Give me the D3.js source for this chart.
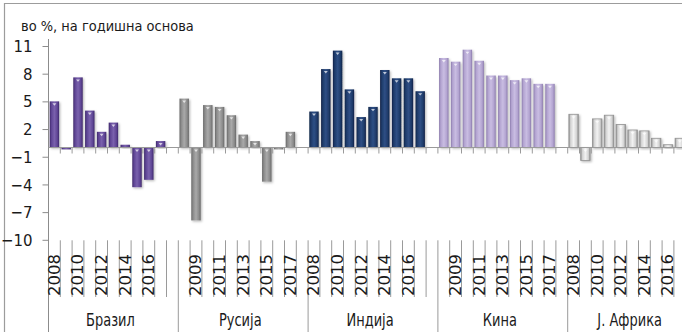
<!DOCTYPE html>
<html>
<head>
<meta charset="utf-8">
<script src="https://cdn.jsdelivr.net/npm/d3@7"></script>
<style>
  html, body { margin: 0; padding: 0; background: #fff; }
  svg { display: block; }
  text { font-family: "DejaVu Sans", sans-serif; fill: #1a1a1a; }
</style>
</head>
<body>
<script>
// Real GDP growth, % y/y, by country and year
const years = ["2008", "2009", "2010", "2011", "2012", "2013", "2014", "2015", "2016", "2017"];
const countries = ["Бразил", "Русија", "Индија", "Кина", "Ј. Африка"];
const brazil = [5.0, -0.2, 7.6, 4.0, 1.7, 2.7, 0.3, -4.3, -3.5, 0.7];
const russia = [5.3, -7.9, 4.6, 4.4, 3.5, 1.4, 0.7, -3.7, -0.2, 1.7];
const india = [3.9, 8.5, 10.5, 6.3, 3.3, 4.4, 8.4, 7.5, 7.5, 6.1];
const china = [9.7, 9.3, 10.6, 9.4, 7.8, 7.8, 7.3, 7.5, 6.9, 6.9];
const southAfrica = [3.6, -1.4, 3.1, 3.5, 2.5, 1.9, 1.8, 1.0, 0.3, 1.0];
const yTicks = [-10, -7, -4, -1, 2, 5, 8, 11];
const unitLabel = "во %, на годишна основа";

const seriesValues = [brazil, russia, india, china, southAfrica];
const seriesColors = [
  { edge: "#3d2868", mid: "#5e4494", light: "#7a62ad", stroke: "none" },
  { edge: "#666666", mid: "#8a8a8a", light: "#a9a9a9", stroke: "none" },
  { edge: "#112446", mid: "#1e3a69", light: "#2f4f85", stroke: "none" },
  { edge: "#8a7aab", mid: "#b2a3d0", light: "#c9bde2", stroke: "none" },
  { edge: "#8e8e8e", mid: "#d2d2d2", light: "#f2f2f2", stroke: "#929292" }
];

const W = 682, H = 332;
const slotsPerGroup = years.length + 1;           // one empty slot after each group
const nSlots = countries.length * slotsPerGroup - 1;

// one flat list of bars
const bars = [];
seriesValues.forEach((vals, g) => {
  vals.forEach((v, i) => bars.push({ g, i, slot: g * slotsPerGroup + i, year: years[i], value: v }));
});

const svg = d3.select("body").append("svg")
  .attr("width", W).attr("height", H);

const defs = svg.append("defs");
seriesColors.forEach((c, g) => {
  const lg = defs.append("linearGradient").attr("id", "grad" + g)
    .attr("x1", "0").attr("x2", "1").attr("y1", "0").attr("y2", "0");
  [[0, c.edge], [0.18, c.mid], [0.5, c.light], [0.82, c.mid], [1, c.edge]]
    .forEach(([o, col]) => lg.append("stop").attr("offset", o).attr("stop-color", col));
});
const shadow = defs.append("filter").attr("id", "shadow")
  .attr("x", "-50%").attr("y", "-20%").attr("width", "200%").attr("height", "140%");
shadow.append("feDropShadow").attr("dx", 1.2).attr("dy", 1.2)
  .attr("stdDeviation", 1.3).attr("flood-color", "#000").attr("flood-opacity", 0.28);

// chart frame
svg.append("path")
  .attr("d", `M4.5,${H + 2} V3.5 H${W + 2}`)
  .attr("fill", "none").attr("stroke", "#9c9c9c").attr("stroke-width", 1.2);

const left = 48.5;
const x = d3.scaleBand()
  .domain(d3.range(nSlots))
  .range([left, left + nSlots * 11.8])
  .paddingInner(0.2).paddingOuter(0.1);
const step = x.step();
const boundary = k => left + k * step;

const y = d3.scaleLinear().domain([-10, 11]).range([239.8, 46]);

// unit label
svg.append("g").attr("transform", "translate(21,31) scale(1,1.15)")
  .append("text").attr("font-size", 13).text(unitLabel);

// y axis
const yAxis = d3.axisLeft(y).tickValues(yTicks).tickSize(6).tickPadding(10);
const ya = svg.append("g").attr("transform", `translate(${left},0)`).call(yAxis);
ya.select(".domain").remove();
ya.selectAll(".tick line").attr("stroke", "#8c8c8c");
ya.selectAll(".tick text")
  .attr("font-family", "DejaVu Sans").attr("font-size", 15).attr("fill", "#1a1a1a")
  .attr("y", 0).attr("dy", "0.34em")
  .attr("transform", "scale(1,1.1)");
svg.append("line")
  .attr("x1", left).attr("x2", left).attr("y1", 39).attr("y2", H)
  .attr("stroke", "#8c8c8c");

// bars
const barG = svg.append("g");
barG.selectAll("rect").data(bars).join("rect")
  .attr("x", d => x(d.slot))
  .attr("width", x.bandwidth())
  .attr("y", d => y(Math.max(0, d.value)))
  .attr("height", d => Math.max(0.8, Math.abs(y(d.value) - y(0))))
  .attr("fill", d => `url(#grad${d.g})`)
  .attr("stroke", d => seriesColors[d.g].stroke)
  .attr("stroke-width", 0.8)
  .attr("filter", "url(#shadow)");

// small bevel highlight at the upper end of each bar
barG.selectAll("path.hl").data(bars.filter(d => Math.abs(d.value) > 0.6)).join("path")
  .attr("class", "hl")
  .attr("d", d => {
    const cx = x(d.slot) + x.bandwidth() / 2;
    const t = y(Math.max(0, d.value)) + 2;
    return `M${cx - 2},${t} L${cx + 2},${t} L${cx},${t + 2.4} Z`;
  })
  .attr("fill", "#fff").attr("opacity", 0.7);

// zero line with category ticks
const zeroY = y(0);
svg.append("line")
  .attr("x1", left).attr("x2", W).attr("y1", zeroY).attr("y2", zeroY)
  .attr("stroke", "#9a9a9a");
svg.append("g").selectAll("line").data(d3.range(1, nSlots + 1)).join("line")
  .attr("x1", boundary).attr("x2", boundary)
  .attr("y1", zeroY).attr("y2", zeroY + 6)
  .attr("stroke", "#9a9a9a");

// lower category axis: year separators and group separators
const axisTop = y(-10) + 0.5;
svg.append("g").selectAll("line").data(d3.range(1, nSlots + 1)).join("line")
  .attr("x1", boundary).attr("x2", boundary)
  .attr("y1", axisTop)
  .attr("y2", k => (k % slotsPerGroup === 0) ? H : 297)
  .attr("stroke", "#9a9a9a");

// year labels (every second slot)
svg.append("g").selectAll("g").data(d3.range(nSlots).filter(s => s % 2 === 0 && s % slotsPerGroup !== years.length))
  .join("g")
  .attr("transform", s => `translate(${x(s) + x.bandwidth() / 2},296) scale(1,1.1) rotate(-90)`)
  .append("text")
  .attr("font-size", 15).attr("dy", "0.36em")
  .text(s => years[s % slotsPerGroup]);

// country labels
svg.append("g").selectAll("g").data(countries).join("g")
  .attr("transform", (c, g) => `translate(${boundary(g * slotsPerGroup + 5.25)},326) scale(1,1.35)`)
  .append("text")
  .attr("font-size", 13).attr("text-anchor", "middle")
  .text(c => c);
</script>
</body>
</html>
